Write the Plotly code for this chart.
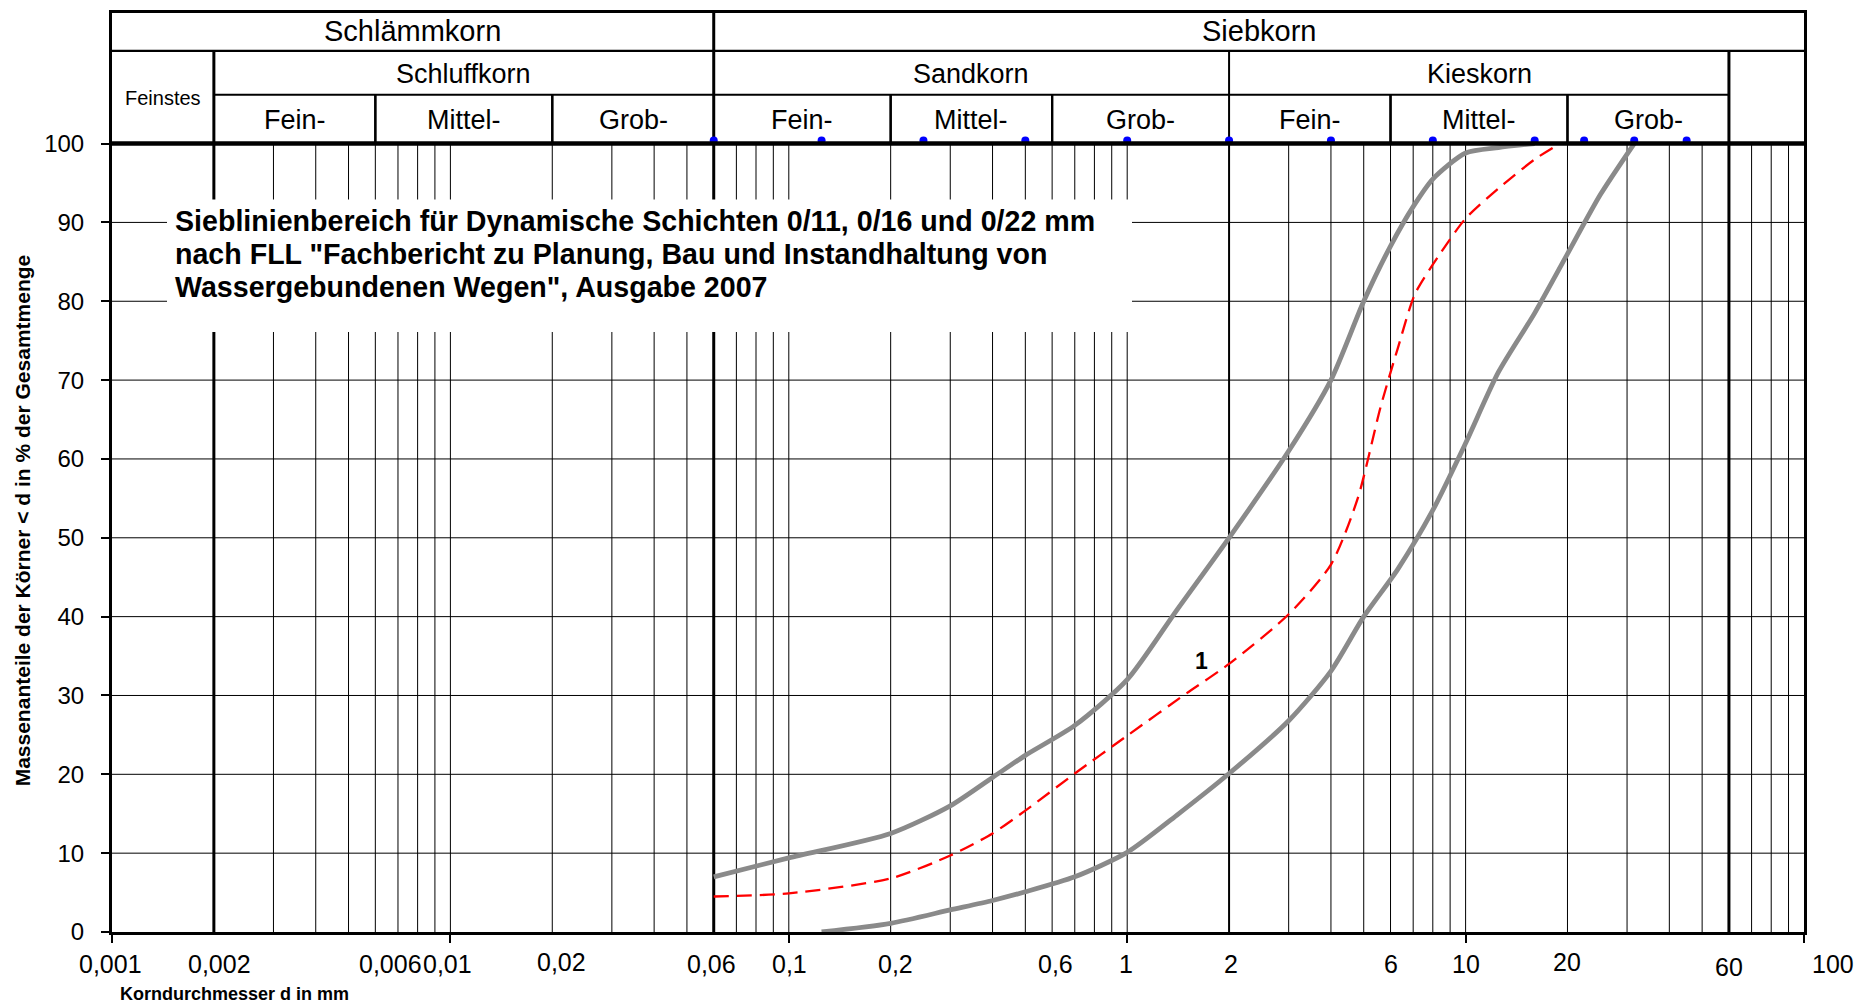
import math
import plotly.graph_objects as go

# ---------------- data ----------------
upper_d = [0.06, 0.1, 0.2, 0.3, 0.4, 0.5, 0.7, 1.0, 1.4, 2.0, 3.0, 4.0, 5.0, 6.0, 7.0, 8.0, 10.0, 12.5, 16.0]
upper_p = [7.0, 9.4, 12.5, 16.0, 19.6, 22.4, 26.2, 32.0, 40.8, 50.0, 61.0, 70.0, 80.0, 87.0, 92.0, 95.5, 98.8, 99.5, 100.0]

lower_d = [0.125, 0.2, 0.3, 0.4, 0.5, 0.7, 1.0, 1.4, 2.0, 3.0, 4.0, 5.0, 6.3, 8.0, 10.0, 12.5, 16.0, 20.0, 25.0, 31.5]
lower_p = [0.0, 1.1, 2.8, 4.0, 5.1, 7.0, 10.1, 14.8, 20.1, 26.8, 33.1, 40.0, 46.0, 53.5, 62.0, 71.0, 78.5, 86.0, 93.5, 100.0]

sample_d = [0.06, 0.1, 0.2, 0.3, 0.4, 0.5, 0.7, 1.0, 1.5, 2.0, 3.0, 4.0, 4.8, 5.6, 6.3, 7.1, 8.4, 10.0, 12.5, 16.0, 19.0]
sample_p = [4.5, 4.9, 6.8, 9.7, 12.5, 15.4, 20.1, 24.9, 30.3, 34.0, 40.3, 46.6, 55.0, 66.5, 74.0, 81.0, 86.0, 90.5, 94.3, 98.0, 100.0]
sample_label = "1"
sample_label_pos = (1.66, 34.4)

sieve_d = [0.06, 0.125, 0.25, 0.5, 1, 2, 4, 8, 16, 22.4, 31.5, 45]
sieve_p = [100, 100, 100, 100, 100, 100, 100, 100, 100, 100, 100, 100]

y_ticks = [0, 10, 20, 30, 40, 50, 60, 70, 80, 90, 100]
x_major = [0.001, 0.01, 0.1, 1, 10, 100]
x_label_vals = [0.001, 0.002, 0.006, 0.01, 0.02, 0.06, 0.1, 0.2, 0.6, 1, 2, 6, 10, 20, 60, 100]
x_label_text = ["0,001", "0,002", "0,006", "0,01", "0,02", "0,06", "0,1", "0,2", "0,6", "1", "2", "6", "10", "20", "60", "100"]

row1 = [("Schlämmkorn", 0.001, 0.06), ("Siebkorn", 0.06, 100)]
row2 = [("Schluffkorn", 0.002, 0.06), ("Sandkorn", 0.06, 2), ("Kieskorn", 2, 60)]
row3 = [("Fein-", 0.002, 0.006), ("Mittel-", 0.006, 0.02), ("Grob-", 0.02, 0.06),
        ("Fein-", 0.06, 0.2), ("Mittel-", 0.2, 0.6), ("Grob-", 0.6, 2),
        ("Fein-", 2, 6), ("Mittel-", 6, 20), ("Grob-", 20, 60)]
feinstes = ("Feinstes", 0.001, 0.002)

title_lines = ["Sieblinienbereich für Dynamische Schichten 0/11, 0/16 und 0/22 mm",
               "nach FLL \"Fachbericht zu Planung, Bau und Instandhaltung von",
               "Wassergebundenen Wegen\", Ausgabe 2007"]
x_title = "Korndurchmesser d in mm"
y_title = "Massenanteile der Körner < d in % der Gesamtmenge"

# ---------------- geometry (page pixels; page has an 8px body margin) ----------------
W, H = 1866, 1004
OFF = 8
PLOT_L, PLOT_R, PLOT_T, PLOT_B = 112, 1804, 10, 932   # page coordinates
L = PLOT_L - OFF
T = PLOT_T - OFF
R = W - (PLOT_R - OFF)
B = H - (PLOT_B - OFF)
PW = PLOT_R - PLOT_L
PH = PLOT_B - PLOT_T
DEC = PW / 5.0
PX_PER_PCT = (PLOT_B - 141) / 100.0
Y_TOP = 100 + (141 - PLOT_T) / PX_PER_PCT
Y_ROW12 = 100 + (141 - 48) / PX_PER_PCT
Y_ROW23 = 100 + (141 - 92) / PX_PER_PCT

def py(px):
    return (PLOT_B - px) / PX_PER_PCT
def ppx(px):
    return (px - PLOT_L) / PW
def ppy(px):
    return (PLOT_B - px) / PH
def lx(px):
    return -3 + (px - PLOT_L) / DEC

FONT = "Arial, Liberation Sans, sans-serif"

fig = go.Figure()

def seg_trace(xs, ys, color="#000", width=1):
    fig.add_trace(go.Scatter(x=xs, y=ys, mode="lines", line=dict(color=color, width=width),
                             hoverinfo="skip", showlegend=False))

# vertical grid lines (inside plot)
thick = {0.002: 3, 0.06: 3, 2: 2, 60: 3}
vx, vy = [], []
for e in range(-3, 2):
    for m in range(1, 10):
        v = round(m * 10 ** e, 6)
        if v <= 0.002 or v in thick:
            continue
        vx += [v, v, None]
        vy += [0, 100, None]
seg_trace(vx, vy, "#000", 1)

# horizontal grid lines
hx, hy = [], []
for t in y_ticks[1:-1]:
    hx += [0.001, 100, None]
    hy += [t, t, None]
seg_trace(hx, hy, "#000", 1)

# thick vertical lines
tops = {0.002: Y_ROW12, 0.06: Y_TOP, 2: Y_ROW12, 60: Y_ROW12}
for v, w in thick.items():
    seg_trace([v, v], [0, tops[v]], "#000", w)

# table lines
tx, ty = [], []
for (_, a, b) in row3:
    for v in (a, b):
        if v not in thick:
            tx += [v, v, None]
            ty += [100, Y_ROW23, None]
tx += [0.001, 100, None, 0.002, 60, None]
ty += [Y_ROW12, Y_ROW12, None, Y_ROW23, Y_ROW23, None]
seg_trace(tx, ty, "#000", 2.2)

# white box behind the title
bx0, bx1 = 10 ** lx(167), 10 ** lx(1132)
by0, by1 = py(330), py(197)
fig.add_trace(go.Scatter(x=[bx0, bx1, bx1, bx0, bx0], y=[by0, by0, by1, by1, by0], mode="lines",
                         fill="toself", fillcolor="white", line=dict(width=0, color="white"),
                         hoverinfo="skip", showlegend=False))

# curves
fig.add_trace(go.Scatter(x=upper_d, y=upper_p, mode="lines",
                         line=dict(color="#8a8a8a", width=4.8, shape="spline", smoothing=0.7),
                         showlegend=False))
fig.add_trace(go.Scatter(x=lower_d, y=lower_p, mode="lines",
                         line=dict(color="#8a8a8a", width=4.8, shape="spline", smoothing=0.7),
                         showlegend=False))
fig.add_trace(go.Scatter(x=sample_d, y=sample_p, mode="lines",
                         line=dict(color="#ff0000", width=2.3, dash="15px,8px", shape="spline", smoothing=0.7),
                         showlegend=False))

# sieve markers (on an overlaid axis shifted up by a few pixels)
shift = 3 / PX_PER_PCT
fig.add_trace(go.Scatter(x=sieve_d, y=sieve_p, mode="markers", yaxis="y2",
                         marker=dict(color="#0000ff", size=8), cliponaxis=False, showlegend=False))

# ---------------- layout ----------------
shapes = [
    dict(type="line", xref="paper", yref="y", x0=0, x1=1, y0=100, y1=100,
         line=dict(color="#000", width=4.5), layer="above"),
]

ann = []
def lc(a, b):
    return (math.log10(a) + math.log10(b)) / 2

for (t, a, b) in row1:
    ann.append(dict(x=lc(a, b), y=py(28.5), xref="x", yref="y", text=t, showarrow=False,
                    font=dict(family=FONT, size=29, color="#000")))
for (t, a, b) in row2:
    ann.append(dict(x=lc(a, b), y=py(71), xref="x", yref="y", text=t, showarrow=False,
                    font=dict(family=FONT, size=27, color="#000")))
for (t, a, b) in row3:
    ann.append(dict(x=lc(a, b), y=py(117), xref="x", yref="y", text=t, showarrow=False,
                    font=dict(family=FONT, size=27, color="#000")))
ann.append(dict(x=lc(feinstes[1], feinstes[2]), y=py(95), xref="x", yref="y", text=feinstes[0],
                showarrow=False, font=dict(family=FONT, size=20, color="#000")))

# title (one annotation per line to control the line spacing)
for i, line in enumerate(title_lines):
    ann.append(dict(x=lx(173), y=py(219 + 32.8 * i), xref="x", yref="y", text="<b>" + line + "</b>",
                    showarrow=False, xanchor="left", yanchor="middle", align="left",
                    font=dict(family=FONT, size=28.6, color="#000")))

# sample label
ann.append(dict(x=math.log10(sample_label_pos[0]), y=sample_label_pos[1], xref="x", yref="y",
                text="<b>" + sample_label + "</b>", showarrow=False,
                font=dict(family=FONT, size=23, color="#000")))

# x tick labels
x_shift = [-2, 6, 15, -3, 9, -2, 1, 5, 3, -1, 2, 0, 0, 0, 0, 29]
y_shift = [0, 0, 0, 0, 2, 0, 0, 0, 0, 0, 0, 0, 0, 2, -3, 0]
for v, t, xs, ys in zip(x_label_vals, x_label_text, x_shift, y_shift):
    ann.append(dict(x=math.log10(v), y=ppy(964), xref="x", yref="paper", text=t, showarrow=False,
                    xshift=xs, yshift=ys, yanchor="middle",
                    font=dict(family=FONT, size=25, color="#000")))

# axis titles
ann.append(dict(x=ppx(118), y=ppy(994), xref="paper", yref="paper", text="<b>" + x_title + "</b>",
                showarrow=False, xanchor="left", yanchor="middle",
                font=dict(family=FONT, size=18, color="#000")))
ann.append(dict(x=ppx(22), y=py(519), xref="paper", yref="y", text="<b>" + y_title + "</b>",
                showarrow=False, textangle=-90, xanchor="center", yanchor="middle",
                font=dict(family=FONT, size=21, color="#000")))

fig.update_layout(
    width=W, height=H,
    margin=dict(l=L, r=R, t=T, b=B, pad=0),
    paper_bgcolor="white", plot_bgcolor="white",
    showlegend=False,
    xaxis=dict(type="log", range=[-3, 2], tickvals=x_major, showticklabels=False,
               ticks="outside", ticklen=8, tickwidth=2, tickcolor="#000",
               showgrid=False, zeroline=False, showline=True, linewidth=2.5, linecolor="#000",
               mirror=True),
    yaxis=dict(range=[0, Y_TOP], tickvals=y_ticks, ticks="outside", ticklen=8, tickwidth=2,
               tickcolor="#000", showgrid=False, zeroline=False, showline=True, linewidth=3,
               linecolor="#000", mirror=True, ticklabelstandoff=12,
               tickfont=dict(family=FONT, size=24, color="#000")),
    yaxis2=dict(range=[-shift, Y_TOP - shift], overlaying="y", visible=False),
    shapes=shapes,
    annotations=ann,
)

fig.write_html("out.html")
